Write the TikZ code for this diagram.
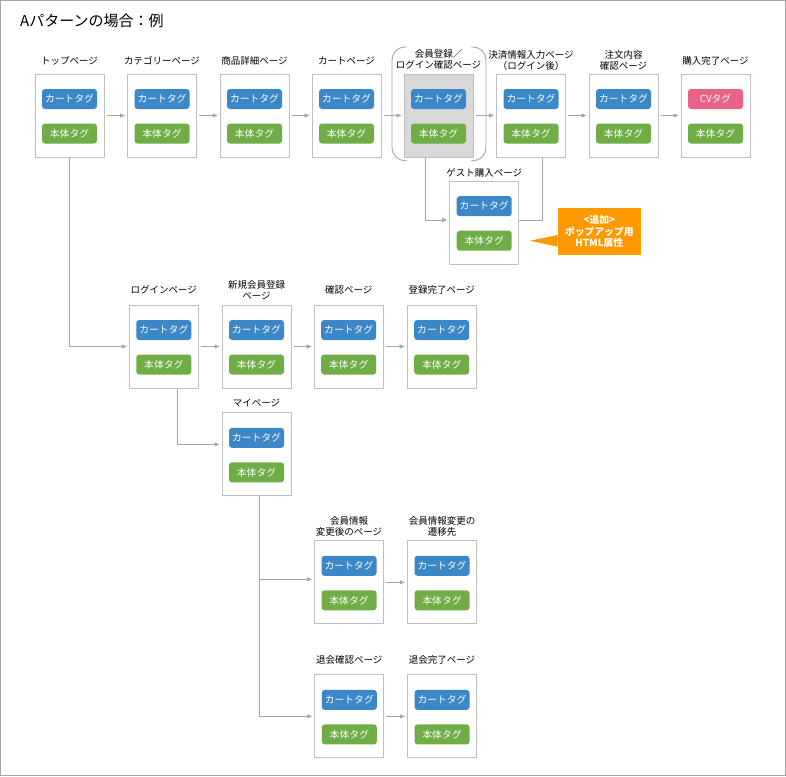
\documentclass[tikz,border=0pt]{standalone}
\usepackage{fontspec}
\setmainfont{Noto Sans CJK JP}
\usetikzlibrary{arrows.meta}
\definecolor{framegray}{RGB}{191,191,191}
\definecolor{linegray}{RGB}{166,166,166}
\definecolor{cartblue}{RGB}{59,135,199}
\definecolor{bodygreen}{RGB}{112,173,71}
\definecolor{cvpink}{RGB}{232,99,135}
\definecolor{noteorange}{RGB}{255,153,0}
\definecolor{loginfill}{RGB}{217,217,217}
\tikzset{
  page/.style={draw=framegray, line width=1pt, fill=white, minimum width=69pt, minimum height=83pt},
  tagbox/.style={rounded corners=3pt, minimum width=55pt, minimum height=20pt, text=white, inner sep=0pt, font=\fontsize{9.8}{11}\selectfont},
  carttag/.style={tagbox, fill=cartblue},
  bodytag/.style={tagbox, fill=bodygreen},
  cvtag/.style={tagbox, fill=cvpink},
  lbl/.style={align=center, inner sep=0pt, font=\fontsize{9.5}{11}\selectfont},
  arr/.style={draw=linegray, line width=0.9pt, -{Triangle[length=5pt,width=4pt]}, shorten <=2pt, shorten >=2pt},
  link/.style={draw=linegray, line width=0.9pt}
}
\begin{document}
\begin{tikzpicture}[x=1pt,y=-1pt]
  \useasboundingbox (0,0) rectangle (786,776);
  \draw[linegray, line width=1pt] (0.5,0.5) rectangle (785.5,775.5);
  \node[anchor=west, inner sep=0pt, font=\fontsize{15}{18}\selectfont] (title) at (20,21) {Aパターンの場合：例};

  % brackets round the login check page
  \draw[linegray, line width=0.9pt, rounded corners=13pt] (407,47) -- (392,47) -- (392,160.7) -- (407,160.7);
  \draw[linegray, line width=0.9pt, rounded corners=13pt] (471,47) -- (486,47) -- (486,160.7) -- (471,160.7);

  % pages with both tags
  \foreach \n/\x/\y in {top/69.5/115.5, category/162/115.5, item/254.5/115.5, cart/346.5/115.5,
      payment/531/115.5, confirm/623.5/115.5, guest/484.2/222.7,
      login/163.8/346.5, register/256.5/346.5, check/348.7/346.5, regdone/441.7/346.5,
      mypage/256.5/454.4, infochg/349/582.3, infodest/442/582.3,
      withdraw/349.3/716.4, wdone/442/716.4} {
    \node[page] (\n) at (\x,\y) {};
    \node[carttag] (\n-c) at (\x,\y-16.5) {カートタグ};
    \node[bodytag] (\n-b) at (\x,\y+18) {本体タグ};
  }
  \node[page, fill=loginfill] (entry) at (438.5,115.5) {};
  \node[carttag] (entry-c) at (438.5,99) {カートタグ};
  \node[bodytag] (entry-b) at (438.5,133.5) {本体タグ};
  \node[page] (complete) at (715.5,115.5) {};
  \node[cvtag] (complete-c) at (715.5,99) {CVタグ};
  \node[bodytag] (complete-b) at (715.5,133.5) {本体タグ};

  % page titles
  \node[lbl] at (69.5,61) {トップページ};
  \node[lbl] at (162,61) {カテゴリーページ};
  \node[lbl] at (254.5,61) {商品詳細ページ};
  \node[lbl] at (346.5,61) {カートページ};
  \node[lbl] at (438.5,59.7) {会員登録／\\ログイン確認ページ};
  \node[lbl] at (531,60.3) {決済情報入力ページ\\（ログイン後）};
  \node[lbl] at (623.5,60.3) {注文内容\\確認ページ};
  \node[lbl] at (715.5,61) {購入完了ページ};
  \node[lbl] at (484.2,172.7) {ゲスト購入ページ};
  \node[lbl] at (163.8,290) {ログインページ};
  \node[lbl] at (256.5,290.5) {新規会員登録\\ページ};
  \node[lbl] at (348.7,290) {確認ページ};
  \node[lbl] at (441.7,290) {登録完了ページ};
  \node[lbl] at (256.5,403.3) {マイページ};
  \node[lbl] at (349,526.5) {会員情報\\変更後のページ};
  \node[lbl] at (442,526.5) {会員情報変更の\\遷移先};
  \node[lbl] at (349.3,660.3) {退会確認ページ};
  \node[lbl] at (442,660.3) {退会完了ページ};

  % note
  \node[fill=noteorange, text=white, font=\bfseries\fontsize{9.8}{11.5}\selectfont, align=center,
        minimum width=83pt, minimum height=47pt, inner sep=0pt] (note) at (599.3,231.7) {<追加>\\ポップアップ用\\HTML属性};
  \coordinate (tip) at (530,240.7);
  \fill[noteorange] ([yshift=-3.3pt]note.west) -- (tip) -- ([yshift=-15pt]note.west) -- cycle;

  % flow
  \draw[arr] (top.east) -- (category.west);
  \draw[arr] (category.east) -- (item.west);
  \draw[arr] (item.east) -- (cart.west);
  \draw[arr] (cart.east) -- (entry.west);
  \draw[arr] (entry.east) -- (payment.west);
  \draw[arr] (payment.east) -- (confirm.west);
  \draw[arr] (confirm.east) -- (complete.west);
  \draw[arr, shorten <=0pt] ([xshift=-13.5pt]entry.south) |- ([yshift=2.7pt]guest.west);
  \draw[link] ([xshift=11.7pt]payment.south) |- ([yshift=2.7pt]guest.east);
  \draw[arr, shorten <=0pt] (top.south) |- (login.west);
  \draw[arr] (login.east) -- (register.west);
  \draw[arr] (register.east) -- (check.west);
  \draw[arr] (check.east) -- (regdone.west);
  \draw[arr, shorten <=0pt] ([xshift=14pt]login.south) |- ([yshift=10pt]mypage.west);
  \draw[arr, shorten <=0pt] ([xshift=3pt]mypage.south) |- ([yshift=3pt]infochg.west);
  \draw[arr, shorten <=0pt] ([xshift=3pt]mypage.south) |- (withdraw.west);
  \draw[arr] (infochg.east) -- (infodest.west);
  \draw[arr] (withdraw.east) -- (wdone.west);
\end{tikzpicture}
\end{document}
